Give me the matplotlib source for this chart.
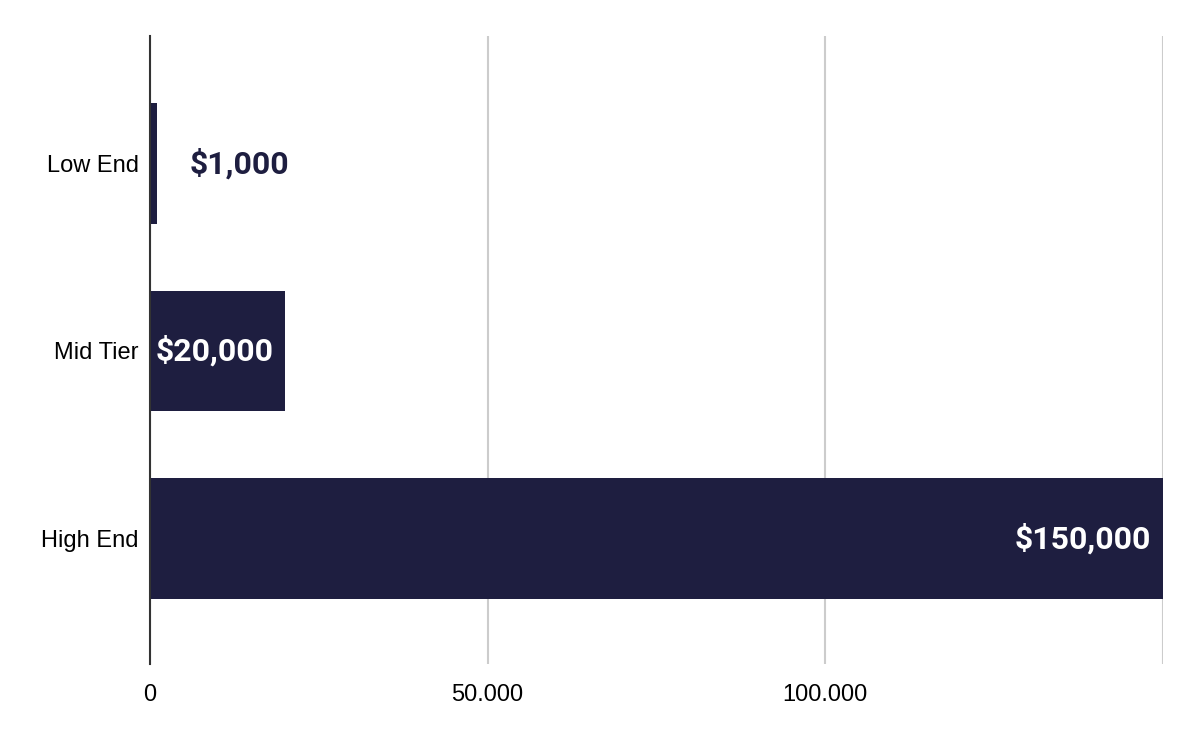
import matplotlib
matplotlib.use("Agg")
from matplotlib import pyplot as plt
from matplotlib.ticker import FuncFormatter

categories = ["Low End", "Mid Tier", "High End"]
values = [1000, 20000, 150000]
value_labels = ["$1,000", "$20,000", "$150,000"]
xticks = [0, 50000, 100000, 150000]

bar_color = "#1e1e40"

fig = plt.figure(figsize=(12, 7.42), dpi=100)
ax = fig.add_axes([0.125, 0.105, 0.844, 0.8465])

ypos = range(len(categories))
ax.barh(ypos, values, height=0.645, color=bar_color, zorder=3)

# value labels: inside the bar when it is wide enough, else outside
for y, v, lab in zip(ypos, values, value_labels):
    if v > 10000:
        ax.text(v - 1700, y, lab, ha="right", va="center", color="white",
                fontsize=23, fontweight="bold", family="Roboto", zorder=4)
    else:
        ax.text(v + 4800, y, lab, ha="left", va="center", color=bar_color,
                fontsize=23, fontweight="bold", family="Roboto", zorder=4)

ax.set_xlim(0, 150000)
ax.set_ylim(2.67, -0.68)
ax.set_yticks(list(ypos))
ax.set_yticklabels(categories, family="Liberation Sans", fontsize=17)
ax.set_xticks(xticks)

def fmt(x, pos):
    if x >= 150000:
        return ""
    return f"{int(x):,}".replace(",", ".")

ax.xaxis.set_major_formatter(FuncFormatter(fmt))
for t in ax.get_xticklabels():
    t.set_family("Liberation Sans")
    t.set_fontsize(17)

ax.tick_params(axis="both", length=0)
ax.tick_params(axis="y", pad=8)
ax.tick_params(axis="x", pad=14)
ax.grid(axis="x", color="#cccccc", linewidth=1.5, zorder=0)
for s in ["top", "right", "bottom"]:
    ax.spines[s].set_visible(False)
ax.spines["left"].set_color("#333333")
ax.spines["left"].set_linewidth(1.5)
ax.spines["left"].set_zorder(5)

fig.savefig("out.png", dpi=100, facecolor="white")
